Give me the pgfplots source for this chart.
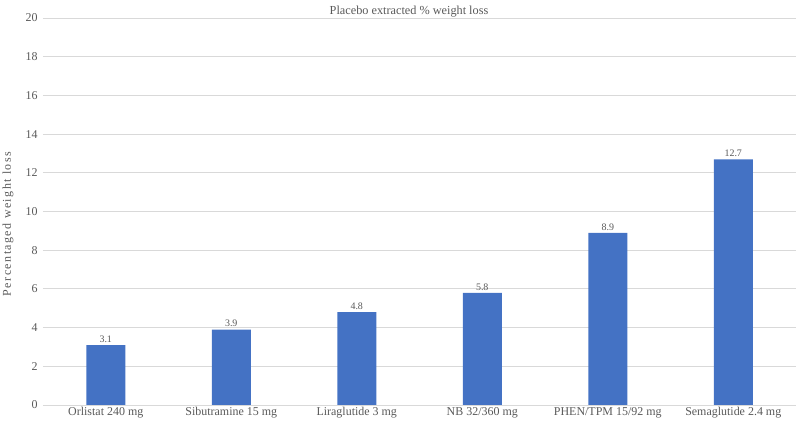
\documentclass[border=0pt]{standalone}
\usepackage{fontspec}
\setmainfont{Liberation Serif}
\usepackage{pgfplots}
\pgfplotsset{compat=1.18}
\definecolor{barblue}{HTML}{4472C4}
\definecolor{txt}{HTML}{595959}
\definecolor{grid}{HTML}{D9D9D9}
\begin{document}
\begin{tikzpicture}
\path[use as bounding box] (0,0) rectangle (796bp,425bp);
\begin{axis}[
  at={(43bp,20bp)}, anchor=south west,
  scale only axis,
  width=753bp, height=387bp,
  xmin=-0.5, xmax=5.5,
  ymin=0, ymax=20,
  ytick={0,2,...,20},
  xtick=data,
  xticklabels={Orlistat 240 mg, Sibutramine 15 mg, Liraglutide 3 mg, NB 32/360 mg, PHEN/TPM 15/92 mg, Semaglutide 2.4 mg},
  axis line style={draw=none},
  tick style={draw=none},
  ymajorgrids,
  grid style={draw=grid, line width=0.8pt},
  /pgf/number format/assume math mode=true,
  ticklabel style={font=\fontsize{12}{14}\selectfont, text=txt},
  yticklabel style={xshift=-2bp, /pgf/number format/fixed zerofill=false, /pgf/number format/precision=0},
  xticklabel style={yshift=1bp},
  nodes near coords,
  nodes near coords style={font=\fontsize{10}{12}\selectfont, text=txt, yshift=-1bp,
    /pgf/number format/fixed, /pgf/number format/precision=1, /pgf/number format/fixed zerofill},
]
\addplot[ybar, bar width=39bp, fill=barblue, draw=none] coordinates {
  (0,3.1) (1,3.9) (2,4.8) (3,5.8) (4,8.9) (5,12.7)
};
\end{axis}
\node[font=\fontsize{12.3}{14}\selectfont, text=txt] at (409bp,413bp) {Placebo extracted \% weight loss};
\node[font=\fontsize{12}{14}\selectfont\addfontfeature{LetterSpace=12}, text=txt, rotate=90] at (8bp,201bp) {Percentaged weight loss};
\end{tikzpicture}
\end{document}
